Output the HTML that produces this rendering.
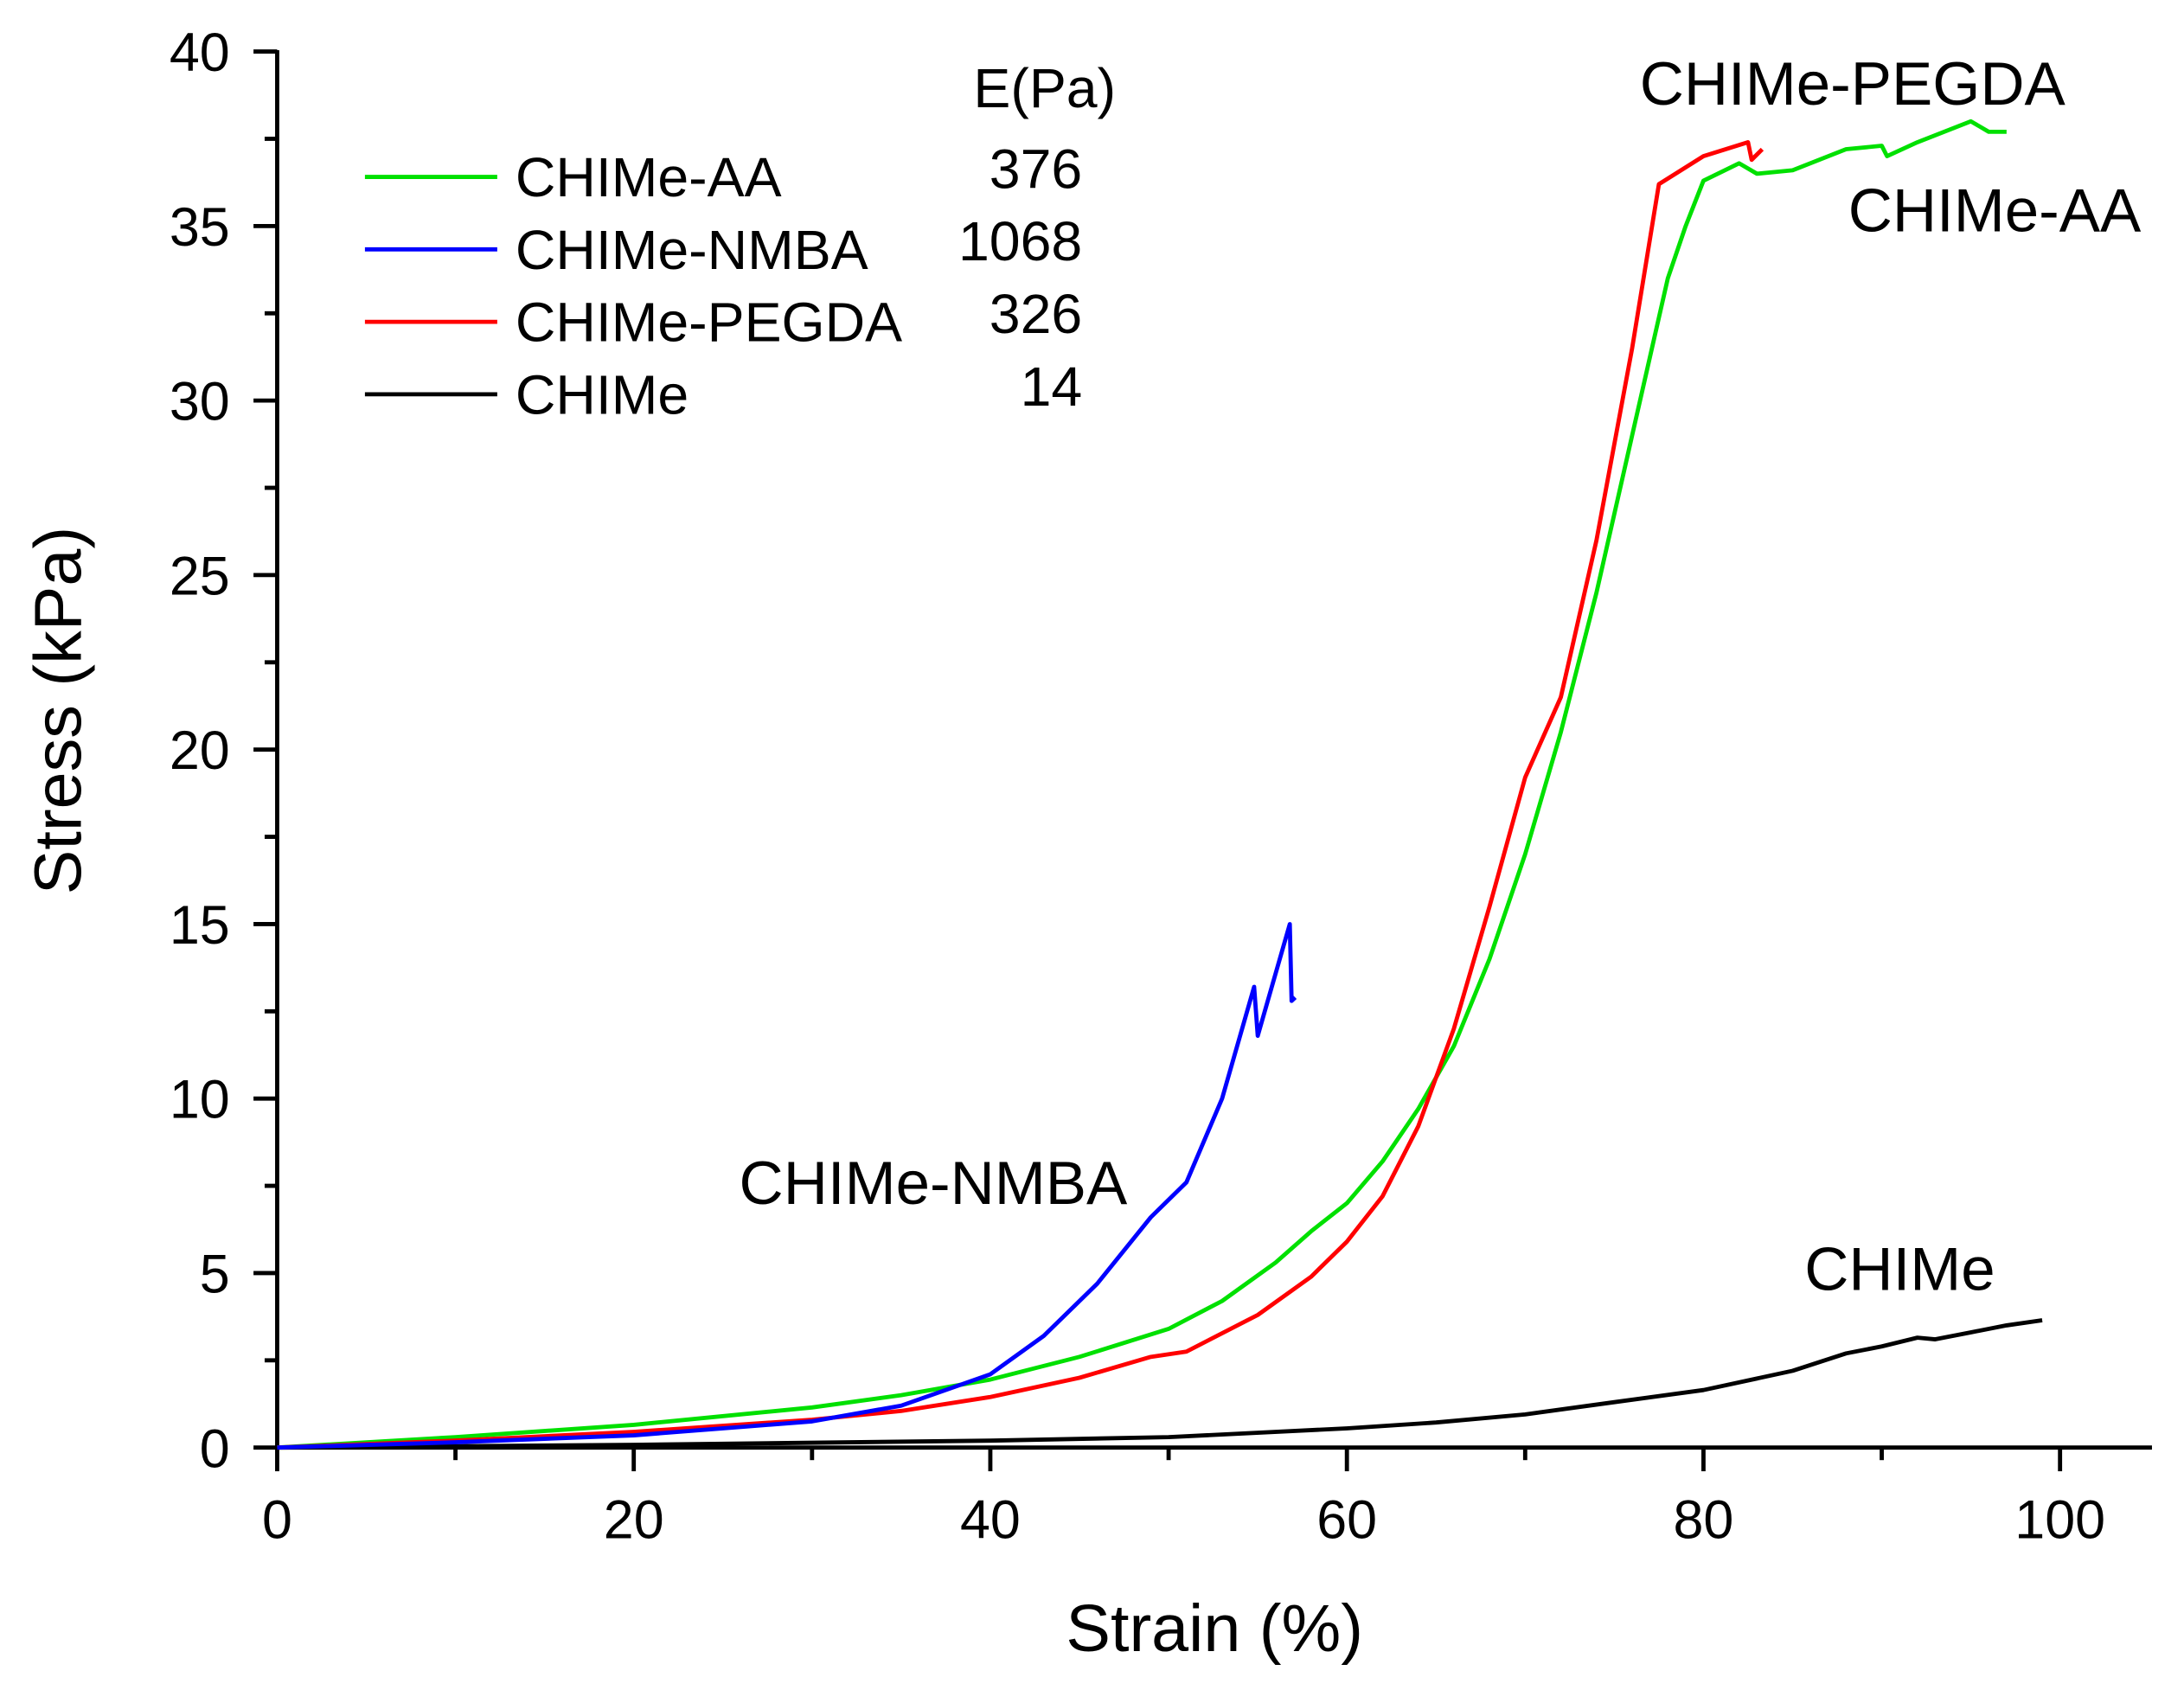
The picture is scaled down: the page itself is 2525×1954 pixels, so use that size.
<!DOCTYPE html>
<html><head><meta charset="utf-8"><style>
html,body{margin:0;padding:0;background:#fff;}
svg{display:block;font-family:"Liberation Sans",Arial,sans-serif;}
</style></head><body>
<svg id="chart" width="2525" height="1954" viewBox="0 0 1568 1213" preserveAspectRatio="none" xmlns="http://www.w3.org/2000/svg">
<g id="axes"></g>
<g id="series"></g>
<g id="labels">
<text x="872" y="1185" font-size="48" text-anchor="middle">Strain (%)</text>
<text transform="translate(58,510) rotate(-90)" font-size="48" text-anchor="middle">Stress (kPa)</text>
<text x="750" y="77" font-size="40" text-anchor="middle">E(Pa)</text>
<text x="1330" y="75" font-size="44" text-anchor="middle">CHIMe-PEGDA</text>
<text x="1432" y="166" font-size="44" text-anchor="middle">CHIMe-AA</text>
<text x="670" y="864" font-size="44" text-anchor="middle">CHIMe-NMBA</text>
<text x="1364" y="926" font-size="44" text-anchor="middle">CHIMe</text>
</g>
<g id="legend"></g>
</svg>
<script>
const xTicks=[0,20,40,60,80,100];
const yTicks=[0,5,10,15,20,25,30,35,40];
const aaX=[0,10,20,30,35,40,45,50,53,56,58,60,62,64,66,68,70,72,74,76,78,79,80,82,83,85,88,90,90.3,92,95,96,97];
const aaY=[0,0.3,0.65,1.15,1.5,1.95,2.6,3.4,4.2,5.3,6.2,7.0,8.2,9.7,11.5,14,17,20.5,24.5,29,33.5,35,36.3,36.8,36.5,36.6,37.2,37.3,37,37.4,38,37.7,37.7];
const pegX=[0,10,20,30,35,40,45,49,51,55,58,60,62,64,66,68,70,72,74,76,77.5,80,82.5,82.7,83.3];
const pegY=[0,0.2,0.45,0.8,1.05,1.45,2.0,2.6,2.75,3.8,4.9,5.9,7.2,9.2,12,15.5,19.2,21.5,26,31.5,36.2,37,37.4,36.9,37.2];
const nmX=[0,10,20,30,35,40,43,46,49,51,53,54.8,55,56.8,56.9,57.1];
const nmY=[0,0.15,0.35,0.75,1.2,2.1,3.2,4.7,6.6,7.6,10,13.2,11.8,15.0,12.8,12.9];
const chX=[0,20,40,50,60,65,70,75,80,85,88,90,92,93,95,97,99];
const chY=[0,0.08,0.2,0.3,0.55,0.72,0.95,1.3,1.65,2.2,2.7,2.9,3.15,3.1,3.3,3.5,3.65];
const legNames=["CHIMe-AA","CHIMe-NMBA","CHIMe-PEGDA","CHIMe"];
const legE=["376","1068","326","14"];
const legColors=["#00e000","#0000ff","#ff0000","#000000"];

const NS="http://www.w3.org/2000/svg";
const sx=v=>199+(1479-199)*v/100;
const sy=v=>1039-(1039-37)*v/40;
function mk(tag,attrs,parent){const e=document.createElementNS(NS,tag);for(const k in attrs)e.setAttribute(k,attrs[k]);parent.appendChild(e);return e;}
const axes=document.getElementById('axes');
let e=mk('line',{x1:199,y1:1039,x2:1545,y2:1039,stroke:'#000','stroke-width':3},axes);


e=mk('line',{x1:199,y1:1040,x2:199,y2:36,stroke:'#000','stroke-width':3},axes);


for(let v=0;v<=105;v+=10){const major=v%20===0;
 e=mk('line',{x1:sx(v),y1:1039,x2:sx(v),y2:1039+(major?17:9),stroke:'#000','stroke-width':3},axes);
 
 }
xTicks.forEach(v=>{e=mk('text',{x:sx(v),y:1104,'font-size':39,'text-anchor':'middle'},axes);e.textContent=v;
 
 });
for(let v=0;v<=40;v+=2.5){const major=v%5===0;
 e=mk('line',{x1:199-(major?17:9),y1:sy(v),x2:199,y2:sy(v),stroke:'#000','stroke-width':3},axes);
 
 }
yTicks.forEach(v=>{e=mk('text',{x:165,y:sy(v)+14,'font-size':39,'text-anchor':'end'},axes);e.textContent=v;
 
 });
const ser=document.getElementById('series');
function line(xs,ys,color,name){const d=xs.map((x,i)=>(i?'L':'M')+sx(x).toFixed(1)+','+sy(ys[i]).toFixed(1)).join(' ');
 const p=mk('path',{d:d,fill:'none',stroke:color,'stroke-width':3,'stroke-linejoin':'round'},ser);
 
 }
line(chX,chY,'#000','series-chime');
line(aaX,aaY,'#00e000','series-chime-aa');
line(pegX,pegY,'#ff0000','series-chime-pegda');
line(nmX,nmY,'#0000ff','series-chime-nmba');
const leg=document.getElementById('legend');
legNames.forEach((n,i)=>{const y=127+i*52;
 e=mk('line',{x1:262,y1:y,x2:357,y2:y,stroke:legColors[i],'stroke-width':3},leg);
 
 
 e=mk('text',{x:370,y:y+14,'font-size':40},leg);e.textContent=n;
 
 
 e=mk('text',{x:777,y:y+8,'font-size':40,'text-anchor':'end'},leg);e.textContent=legE[i];
 
 });
</script>
</body></html>
